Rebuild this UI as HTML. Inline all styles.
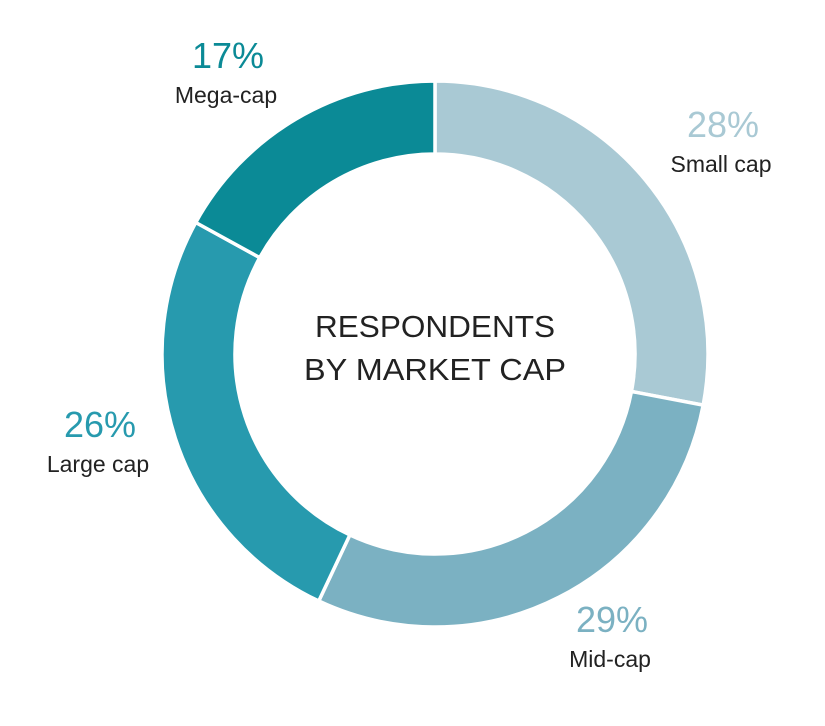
<!DOCTYPE html>
<html><head><meta charset="utf-8"><style>
html,body{margin:0;padding:0;background:#fff;}
svg{display:block;font-family:"Liberation Sans",sans-serif;}
</style></head><body>
<svg id="chart" width="825" height="726" viewBox="0 0 825 726">
<g id="slices"></g>
<g id="labels"></g>
<text x="435" y="337" text-anchor="middle" font-size="31" fill="#222" textLength="240" lengthAdjust="spacingAndGlyphs">RESPONDENTS</text>
<text x="435" y="380" text-anchor="middle" font-size="31" fill="#222" textLength="262" lengthAdjust="spacingAndGlyphs">BY MARKET CAP</text>
</svg>
<script>
const categories = ["Small cap", "Mid-cap", "Large cap", "Mega-cap"];
const values = [28, 29, 26, 17];
const colors = ["#a9c9d4", "#7bb1c2", "#279aae", "#0b8a96"];
const valueLabels = ["28%", "29%", "26%", "17%"];
const labelPos = [[723,137],[612,632],[100,437],[228,68]];

const cx = 435, cy = 354, R = 273, r = 200;
const NS = "http://www.w3.org/2000/svg";
const total = values.reduce((a,b)=>a+b,0);
function pt(rad, ang){ return [cx + rad*Math.sin(ang), cy - rad*Math.cos(ang)]; }
const sg = document.getElementById("slices");
const lg = document.getElementById("labels");
let acc = 0;
values.forEach((v,i)=>{
  const a0 = acc/total*2*Math.PI, a1 = (acc+v)/total*2*Math.PI;
  acc += v;
  const large = (a1-a0) > Math.PI ? 1 : 0;
  const [x0,y0]=pt(R,a0),[x1,y1]=pt(R,a1),[x2,y2]=pt(r,a1),[x3,y3]=pt(r,a0);
  const p = document.createElementNS(NS,"path");
  p.setAttribute("d",`M${x0},${y0} A${R},${R} 0 ${large} 1 ${x1},${y1} L${x2},${y2} A${r},${r} 0 ${large} 0 ${x3},${y3} Z`);
  p.setAttribute("fill",colors[i]);
  p.setAttribute("stroke","#fff");
  p.setAttribute("stroke-width","3.5");
  
  
  sg.appendChild(p);
  const [lx,ly] = labelPos[i];
  const t1 = document.createElementNS(NS,"text");
  t1.setAttribute("x",lx); t1.setAttribute("y",ly);
  t1.setAttribute("text-anchor","middle"); t1.setAttribute("font-size","36");
  t1.setAttribute("fill",colors[i]);
  t1.textContent = valueLabels[i];
  
  
  lg.appendChild(t1);
  const t2 = document.createElementNS(NS,"text");
  t2.setAttribute("x",lx-2); t2.setAttribute("y",ly+35);
  t2.setAttribute("text-anchor","middle"); t2.setAttribute("font-size","23");
  t2.setAttribute("fill","#222");
  t2.textContent = categories[i];
  
  
  lg.appendChild(t2);
});
</script>
</body></html>
